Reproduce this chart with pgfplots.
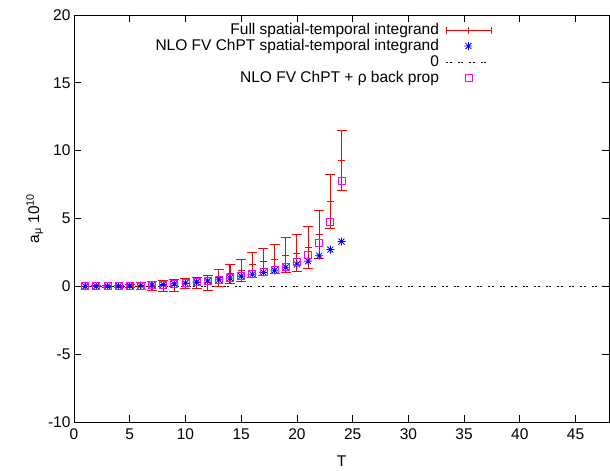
\documentclass[border=0pt]{standalone}
\usepackage{fontspec}
\setmainfont{Liberation Sans}
\usepackage{pgfplots}
\usepackage{pgfplotstable}
\pgfplotsset{compat=1.18}
\newcommand\fs{\fontsize{15.5bp}{18bp}\selectfont}
\pgfdeclareplotmark{gpstar}{%
 \pgfpathmoveto{\pgfpoint{-\pgfplotmarksize}{0pt}}\pgfpathlineto{\pgfpoint{\pgfplotmarksize}{0pt}}%
 \pgfpathmoveto{\pgfpoint{0pt}{-\pgfplotmarksize}}\pgfpathlineto{\pgfpoint{0pt}{\pgfplotmarksize}}%
 \pgfpathmoveto{\pgfpoint{-0.75\pgfplotmarksize}{-0.75\pgfplotmarksize}}\pgfpathlineto{\pgfpoint{0.75\pgfplotmarksize}{0.75\pgfplotmarksize}}%
 \pgfpathmoveto{\pgfpoint{-0.75\pgfplotmarksize}{0.75\pgfplotmarksize}}\pgfpathlineto{\pgfpoint{0.75\pgfplotmarksize}{-0.75\pgfplotmarksize}}%
 \pgfusepathqstroke}
\definecolor{gpred}{RGB}{255,0,0}
\definecolor{gpblue}{RGB}{0,0,255}
\definecolor{gpmag}{RGB}{255,0,255}
% central values of the full integrand
\pgfplotstableread{
T y
1 0.00
2 0.00
3 0.00
4 0.01
5 0.01
6 0.00
7 0.02
8 0.04
9 0.08
10 0.22
11 0.26
12 0.28
13 0.62
14 0.92
15 1.17
16 1.58
17 1.80
18 2.00
19 2.29
20 2.46
21 2.89
22 3.81
23 6.29
24 9.30
}\fulldata
% error bar ends (low, high) of the full integrand
\pgfplotstableread{
T y
1 -0.02
1 0.02
1 nan
2 -0.03
2 0.03
2 nan
3 -0.05
3 0.05
3 nan
4 -0.07
4 0.09
4 nan
5 -0.11
5 0.13
5 nan
6 -0.25
6 0.25
6 nan
7 -0.33
7 0.37
7 nan
8 -0.36
8 0.44
8 nan
9 -0.37
9 0.53
9 nan
10 -0.17
10 0.61
10 nan
11 -0.17
11 0.69
11 nan
12 -0.27
12 0.83
12 nan
13 0.00
13 1.24
13 nan
14 0.24
14 1.60
14 nan
15 0.37
15 1.97
15 nan
16 0.69
16 2.47
16 nan
17 0.81
17 2.79
17 nan
18 0.92
18 3.08
18 nan
19 1.01
19 3.57
19 nan
20 1.06
20 3.86
20 nan
21 1.35
21 4.43
21 nan
22 2.04
22 5.58
22 nan
23 4.30
23 8.28
23 nan
24 7.08
24 11.52
}\errdata
\pgfplotstableread{
T y
1 0.00
2 0.01
3 0.01
4 0.02
5 0.04
6 0.06
7 0.09
8 0.13
9 0.18
10 0.24
11 0.31
12 0.39
13 0.49
14 0.61
15 0.75
16 0.89
17 1.03
18 1.18
19 1.40
20 1.62
21 1.85
22 2.26
23 2.71
24 3.30
}\nlodata
\pgfplotstableread{
T y
1 0.00
2 0.01
3 0.01
4 0.02
5 0.04
6 0.06
7 0.09
8 0.13
9 0.18
10 0.24
11 0.31
12 0.39
13 0.49
14 0.61
15 0.75
16 0.89
17 1.03
18 1.18
19 1.43
20 1.82
21 2.34
22 3.17
23 4.75
24 7.77
}\rhodata
\begin{document}
\begin{tikzpicture}
\begin{axis}[
  name=ax,
  scale only axis, width=535bp, height=407bp,
  xmin=0, xmax=48, ymin=-10, ymax=20,
  xtick={0,5,...,45}, ytick={-10,-5,...,20},
  tick align=inside, major tick length=7bp,
  axis line style={black, line width=0.8bp},
  every tick/.style={black, line width=0.7bp},
  /pgf/number format/assume math mode=true,
  ticklabel style={font=\fs},
  xticklabel style={yshift=-3bp},
  label style={font=\fs},
  xlabel={T}, ylabel={a\textsubscript{μ} 10\textsuperscript{10}},
  xlabel style={yshift=-10bp},
  ylabel style={yshift=-2bp},
  unbounded coords=jump,
  legend cell align=right,
  legend plot pos=right,
  legend style={draw=none, fill=none, at={(0.787,0.988)}, anchor=north east,
    font=\fs, row sep=0pt, column sep=5bp,
    nodes={inner ysep=0.5bp, inner xsep=2bp, text height=11.5bp, text depth=3.5bp}},
]
\addplot[gpred, line width=1.1bp, mark=-, mark size=5bp, mark options={solid, gpred, line width=0.9bp}, forget plot]
  table[x=T, y=y]{\errdata};
\addplot[gpred, only marks, mark=+, mark size=3.5bp, line width=0.9bp,
  legend image code/.code={%
    \draw[gpred, line width=0.9bp] (0bp,0bp) -- (45bp,0bp);
    \draw[gpred, line width=0.9bp] (0bp,-3.5bp) -- (0bp,3.5bp);
    \draw[gpred, line width=0.9bp] (45bp,-3.5bp) -- (45bp,3.5bp);
    \draw[gpred, line width=0.9bp] (22.5bp,-3.5bp) -- (22.5bp,3.5bp);}]
  table[x=T, y=y]{\fulldata};
\addlegendentry{Full spatial-temporal integrand}
\addplot[gpblue, only marks, mark=gpstar, mark size=4bp, line width=0.8bp,
  legend image code/.code={\draw[gpblue, mark=gpstar, mark size=4bp, line width=0.8bp] plot coordinates {(22bp,0bp)};}]
  table[x=T, y=y]{\nlodata};
\addlegendentry{NLO FV ChPT spatial-temporal integrand}
\addplot[black, line width=0.8bp, dash pattern=on 2bp off 1.5bp on 2bp off 6bp,
  legend image code/.code={\draw[black, line width=0.8bp, dash pattern=on 2bp off 1.5bp on 2bp off 6bp] (0bp,0bp) -- (45bp,0bp);}]
  coordinates {(0,0) (48,0)};
\addlegendentry{0}
\addplot[gpmag, only marks, mark=square, mark size=3.5bp, line width=0.8bp,
  legend image code/.code={\draw[gpmag, mark=square, mark size=3.5bp, line width=0.8bp] plot coordinates {(22bp,0bp)};}]
  table[x=T, y=y]{\rhodata};
\addlegendentry{NLO FV ChPT + ρ back prop}
\end{axis}
\path ([shift={(-74bp,-45bp)}]ax.south west) rectangle ([shift={(1bp,15bp)}]ax.north east);
\end{tikzpicture}
\end{document}
